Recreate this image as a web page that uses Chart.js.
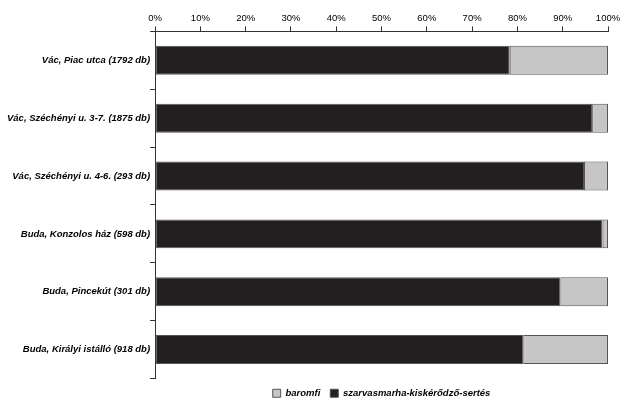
<!DOCTYPE html>
<html>
<head>
<meta charset="utf-8">
<script src="https://cdn.jsdelivr.net/npm/chart.js@4/dist/chart.umd.min.js"></script>
<style>
  html, body { margin: 0; padding: 0; background: #fff; }
  #wrap { width: 637px; height: 408px; }
</style>
</head>
<body>
<div id="wrap"><canvas id="chart"></canvas></div>
<script>
const sites = [
    'Vác, Piac utca (1792 db)',
    'Vác, Széchényi u. 3-7. (1875 db)',
    'Vác, Széchényi u. 4-6. (293 db)',
    'Buda, Konzolos ház (598 db)',
    'Buda, Pincekút (301 db)',
    'Buda, Királyi istálló (918 db)'
];
const emlos = [78.3, 96.5, 94.7, 98.8, 89.5, 81.3];
const baromfi = [21.7, 3.5, 5.3, 1.2, 10.5, 18.7];
const xTicks = [0, 10, 20, 30, 40, 50, 60, 70, 80, 90, 100];

const font = { family: "'Liberation Sans', Arial, sans-serif", size: 9.5 };
const labelFont = { ...font, weight: 'bold', style: 'italic' };

new Chart(document.getElementById('chart'), {
    type: 'bar',
    data: {
        labels: sites,
        datasets: [{
            label: 'szarvasmarha-kiskérődző-sertés',
            data: emlos,
            backgroundColor: '#231f20',
            borderColor: '#555555',
            borderWidth: 1,
            borderSkipped: false
        }, {
            label: 'baromfi',
            data: baromfi,
            backgroundColor: '#c6c6c6',
            borderColor: '#555555',
            borderWidth: 1,
            borderSkipped: false
        }]
    },
    options: {
        indexAxis: 'y',
        responsive: true,
        maintainAspectRatio: false,
        animation: false,
        categoryPercentage: 0.5,
        barPercentage: 1,
        layout: { padding: { top: 11, left: 7, right: 29, bottom: 0 } },
        plugins: {
            legend: {
                position: 'bottom',
                fullSize: false,
                reverse: true,
                labels: {
                    boxWidth: 8,
                    boxHeight: 8,
                    padding: 10,
                    color: '#000',
                    font: labelFont
                }
            },
            tooltip: { enabled: false }
        },
        scales: {
            x: {
                position: 'top',
                stacked: true,
                min: 0,
                max: 100,
                afterBuildTicks: axis => { axis.ticks = xTicks.map(v => ({ value: v })); },
                ticks: {
                    color: '#000',
                    font: font,
                    padding: 2,
                    callback: v => v + '%'
                },
                grid: { drawOnChartArea: false, drawTicks: true, tickLength: 5, color: '#333' },
                border: { display: true, color: '#333' }
            },
            y: {
                stacked: true,
                ticks: { color: '#000', font: labelFont, padding: 0 },
                grid: { drawOnChartArea: false, drawTicks: true, tickLength: 5, color: '#333', offset: true },
                border: { display: true, color: '#333' }
            }
        }
    }
});
</script>
</body>
</html>
